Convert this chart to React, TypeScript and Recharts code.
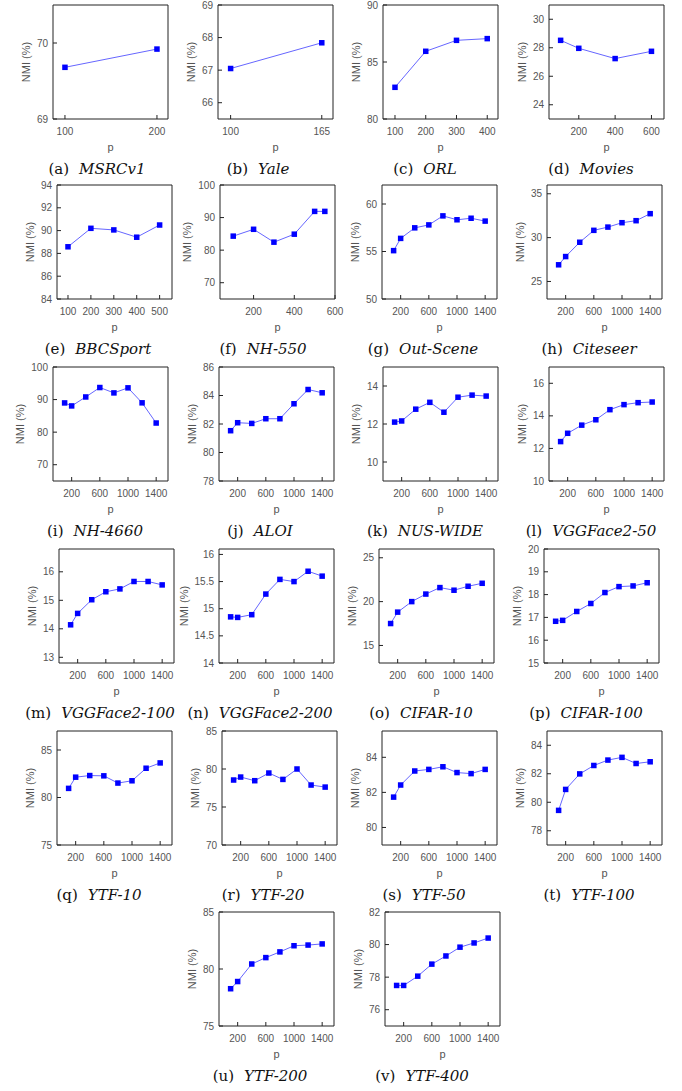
import React from "react";
import { LineChart, Line, XAxis, YAxis } from "recharts";

// shared p grid for the large datasets
const P8 = [100, 200, 400, 600, 800, 1000, 1200, 1400];
const P8_TICKS = [200, 600, 1000, 1400];
const P8_DOMAIN = [-65, 1568];

// NMI (%) values
const MSRC_P = [100, 200];
const MSRC_NMI = [69.68, 69.92];
const YALE_P = [100, 165];
const YALE_NMI = [67.05, 67.84];
const ORL_P = [100, 200, 300, 400];
const ORL_NMI = [82.78, 85.94, 86.9, 87.05];
const MOVIES_P = [100, 200, 400, 600];
const MOVIES_NMI = [28.52, 27.96, 27.24, 27.75];
const BBC_P = [100, 200, 300, 400, 500];
const BBC_NMI = [88.58, 90.2, 90.06, 89.42, 90.49];
const NH550_P = [100, 200, 300, 400, 500, 550];
const NH550_NMI = [84.3, 86.4, 82.45, 84.9, 91.9, 91.9];
const OUTSCENE_NMI = [55.09, 56.38, 57.49, 57.8, 58.75, 58.34, 58.5, 58.2];
const CITESEER_NMI = [26.9, 27.84, 29.47, 30.83, 31.2, 31.7, 31.93, 32.73];
const NH4660_NMI = [88.97, 88.05, 90.8, 93.7, 92.05, 93.6, 89.0, 82.8];
const ALOI_NMI = [81.53, 82.09, 82.04, 82.37, 82.37, 83.42, 84.42, 84.19];
const NUSWIDE_NMI = [12.1, 12.16, 12.78, 13.14, 12.62, 13.41, 13.52, 13.47];
const VGG50_NMI = [12.42, 12.93, 13.43, 13.76, 14.38, 14.69, 14.81, 14.85];
const VGG100_NMI = [14.14, 14.54, 15.02, 15.3, 15.4, 15.66, 15.66, 15.54];
const VGG200_NMI = [14.85, 14.84, 14.89, 15.27, 15.54, 15.5, 15.69, 15.6];
const CIFAR10_NMI = [17.5, 18.8, 20.0, 20.86, 21.6, 21.3, 21.75, 22.09];
const CIFAR100_NMI = [16.83, 16.87, 17.26, 17.61, 18.09, 18.35, 18.38, 18.52];
const YTF10_NMI = [80.96, 82.14, 82.31, 82.28, 81.52, 81.76, 83.08, 83.64];
const YTF20_NMI = [78.55, 78.94, 78.46, 79.47, 78.63, 80.0, 77.89, 77.62];
const YTF50_NMI = [81.73, 82.42, 83.22, 83.31, 83.46, 83.13, 83.07, 83.31];
const YTF100_NMI = [79.43, 80.9, 81.99, 82.58, 82.96, 83.15, 82.72, 82.84];
const YTF200_NMI = [78.27, 78.9, 80.44, 81.0, 81.5, 82.04, 82.1, 82.2];
const YTF400_NMI = [77.49, 77.49, 78.06, 78.8, 79.3, 79.84, 80.1, 80.4];

const PANELS = [
  { id: "a", name: "MSRCv1", p: MSRC_P, nmi: MSRC_NMI, xDomain: [87, 212], xTicks: [100, 200], yDomain: [69, 70.5], yTicks: [69, 70] },
  { id: "b", name: "Yale", p: YALE_P, nmi: YALE_NMI, xDomain: [91, 173], xTicks: [100, 165], yDomain: [65.5, 69], yTicks: [66, 67, 68, 69] },
  { id: "c", name: "ORL", p: ORL_P, nmi: ORL_NMI, xDomain: [61, 435], xTicks: [100, 200, 300, 400], yDomain: [80, 90], yTicks: [80, 85, 90] },
  { id: "d", name: "Movies", p: MOVIES_P, nmi: MOVIES_NMI, xDomain: [36, 669], xTicks: [200, 400, 600], yDomain: [23, 31], yTicks: [24, 26, 28, 30] },
  { id: "e", name: "BBCSport", p: BBC_P, nmi: BBC_NMI, xDomain: [52, 554], xTicks: [100, 200, 300, 400, 500], yDomain: [84, 94], yTicks: [84, 86, 88, 90, 92, 94] },
  { id: "f", name: "NH-550", p: NH550_P, nmi: NH550_NMI, xDomain: [35, 600], xTicks: [200, 400, 600], yDomain: [65, 100], yTicks: [70, 80, 90, 100] },
  { id: "g", name: "Out-Scene", p: P8, nmi: OUTSCENE_NMI, xDomain: P8_DOMAIN, xTicks: P8_TICKS, yDomain: [50, 62], yTicks: [50, 55, 60] },
  { id: "h", name: "Citeseer", p: P8, nmi: CITESEER_NMI, xDomain: P8_DOMAIN, xTicks: P8_TICKS, yDomain: [23, 36], yTicks: [25, 30, 35] },
  { id: "i", name: "NH-4660", p: P8, nmi: NH4660_NMI, xDomain: P8_DOMAIN, xTicks: P8_TICKS, yDomain: [65, 100], yTicks: [70, 80, 90, 100] },
  { id: "j", name: "ALOI", p: P8, nmi: ALOI_NMI, xDomain: P8_DOMAIN, xTicks: P8_TICKS, yDomain: [78, 86], yTicks: [78, 80, 82, 84, 86] },
  { id: "k", name: "NUS-WIDE", p: P8, nmi: NUSWIDE_NMI, xDomain: P8_DOMAIN, xTicks: P8_TICKS, yDomain: [9, 15], yTicks: [10, 12, 14] },
  { id: "l", name: "VGGFace2-50", p: P8, nmi: VGG50_NMI, xDomain: P8_DOMAIN, xTicks: P8_TICKS, yDomain: [10, 17], yTicks: [10, 12, 14, 16] },
  { id: "m", name: "VGGFace2-100", p: P8, nmi: VGG100_NMI, xDomain: P8_DOMAIN, xTicks: P8_TICKS, yDomain: [12.8, 16.8], yTicks: [13, 14, 15, 16] },
  { id: "n", name: "VGGFace2-200", p: P8, nmi: VGG200_NMI, xDomain: P8_DOMAIN, xTicks: P8_TICKS, yDomain: [14, 16.1], yTicks: [14, 14.5, 15, 15.5, 16] },
  { id: "o", name: "CIFAR-10", p: P8, nmi: CIFAR10_NMI, xDomain: P8_DOMAIN, xTicks: P8_TICKS, yDomain: [13, 26], yTicks: [15, 20, 25] },
  { id: "p", name: "CIFAR-100", p: P8, nmi: CIFAR100_NMI, xDomain: P8_DOMAIN, xTicks: P8_TICKS, yDomain: [15, 20], yTicks: [15, 16, 17, 18, 19, 20] },
  { id: "q", name: "YTF-10", p: P8, nmi: YTF10_NMI, xDomain: P8_DOMAIN, xTicks: P8_TICKS, yDomain: [75, 87], yTicks: [75, 80, 85] },
  { id: "r", name: "YTF-20", p: P8, nmi: YTF20_NMI, xDomain: P8_DOMAIN, xTicks: P8_TICKS, yDomain: [70, 85], yTicks: [70, 75, 80, 85] },
  { id: "s", name: "YTF-50", p: P8, nmi: YTF50_NMI, xDomain: P8_DOMAIN, xTicks: P8_TICKS, yDomain: [79, 85.5], yTicks: [80, 82, 84] },
  { id: "t", name: "YTF-100", p: P8, nmi: YTF100_NMI, xDomain: P8_DOMAIN, xTicks: P8_TICKS, yDomain: [77, 85], yTicks: [78, 80, 82, 84] },
  { id: "u", name: "YTF-200", p: P8, nmi: YTF200_NMI, xDomain: P8_DOMAIN, xTicks: P8_TICKS, yDomain: [75, 85], yTicks: [75, 80, 85] },
  { id: "v", name: "YTF-400", p: P8, nmi: YTF400_NMI, xDomain: P8_DOMAIN, xTicks: P8_TICKS, yDomain: [75, 82], yTicks: [76, 78, 80, 82] },
];

// plot-box top-left corners (page px) and caption centres
const BOX_POS: Record<string, [number, number]> = {
  a: [53, 5], b: [218, 5], c: [383, 5], d: [549, 5],
  e: [57, 185], f: [220, 185], g: [382, 185], h: [547, 185],
  i: [53, 367], j: [219, 367], k: [383, 367], l: [549, 367],
  m: [59, 549], n: [219, 549], o: [379, 549], p: [544, 549],
  q: [57, 731], r: [222, 731], s: [382, 731], t: [547, 731],
  u: [219, 912], v: [385, 912],
};
const CAPTION_X: Record<string, number> = {
  a: 97, b: 258, c: 425, d: 591,
  e: 98, f: 263, g: 423, h: 589,
  i: 95, j: 260, k: 425, l: 591,
  m: 100, n: 260, o: 421, p: 586,
  q: 99, r: 263, s: 424, t: 589,
  u: 260, v: 422,
};

const BW = 115;
const BH = 114;
const YW = 46;
const XH = 34;
const MT = 4;
const MR = 14;
const EDGE = 1;

const TICK_FONT = "'Liberation Sans', Helvetica, Arial, sans-serif";
const CAP_FONT = "'DejaVu Serif', 'Liberation Serif', serif";
const AXIS = "#222";
const TICK_FILL = "#555";

const Square = (props: any) => {
  const { cx, cy } = props;
  if (cx == null || cy == null) return null;
  return <rect x={cx - 2.75} y={cy - 2.75} width={5.5} height={5.5} fill="#0000ff" />;
};

const XLabel = (props: any) => {
  const { x, y, width } = props.viewBox;
  return (
    <text x={x + width / 2} y={y + 28} textAnchor="middle" dominantBaseline="central"
      fontSize={11} fill={TICK_FILL} fontFamily={TICK_FONT}>
      p
    </text>
  );
};

const YLabel = (props: any) => {
  const { x, y, width, height } = props.viewBox;
  const cx = x + width - props.off;
  const cy = y + height / 2;
  return (
    <text x={cx} y={cy} transform={`rotate(-90, ${cx}, ${cy})`} textAnchor="middle"
      dominantBaseline="central" fontSize={11} fill={TICK_FILL} fontFamily={TICK_FONT}>
      NMI (%)
    </text>
  );
};

const labelWidth = (t: number) =>
  String(t).split("").reduce((w, c) => w + (c === "." ? 2.8 : 5.56), 0);

const Panel = ({ spec }: any) => {
  const [left, top] = BOX_POS[spec.id];
  const data = spec.p.map((p: number, i: number) => ({ p, nmi: spec.nmi[i] }));
  const off = 16 + Math.max(...spec.yTicks.map(labelWidth));
  const tickStyle = { fill: TICK_FILL, fontSize: 10, fontFamily: TICK_FONT };
  return (
    <div style={{ position: "absolute", left: left - YW, top: top - MT - EDGE }}>
      <LineChart
        width={YW + BW + EDGE + MR}
        height={MT + EDGE + BH + XH}
        data={data}
        margin={{ top: MT, right: MR, left: 0, bottom: 0 }}
      >
        <XAxis xAxisId="b" dataKey="p" type="number" domain={spec.xDomain} ticks={spec.xTicks}
          allowDataOverflow interval={0} height={XH} tickSize={-4} tickMargin={13}
          stroke={AXIS} tick={tickStyle} label={<XLabel />} />
        <XAxis xAxisId="t" orientation="top" dataKey="p" type="number" domain={spec.xDomain}
          ticks={spec.xTicks} allowDataOverflow interval={0} height={EDGE} tickSize={-4}
          tick={false} stroke={AXIS} />
        <YAxis yAxisId="l" type="number" domain={spec.yDomain} ticks={spec.yTicks}
          allowDataOverflow interval={0} width={YW} tickSize={-4} tickMargin={9}
          stroke={AXIS} tick={tickStyle} label={<YLabel off={off} />} />
        <YAxis yAxisId="r" orientation="right" type="number" domain={spec.yDomain}
          ticks={spec.yTicks} allowDataOverflow interval={0} width={EDGE} tickSize={-4}
          tick={false} stroke={AXIS} />
        <Line xAxisId="b" yAxisId="l" type="linear" dataKey="nmi" stroke="#6666ff"
          strokeWidth={1} dot={<Square />} activeDot={false} isAnimationActive={false} />
      </LineChart>
    </div>
  );
};

const Caption = ({ spec }: any) => {
  const [, top] = BOX_POS[spec.id];
  const cx = CAPTION_X[spec.id];
  return (
    <div style={{
      position: "absolute", left: cx - 100, width: 200, top: top + BH + 40, height: 20,
      lineHeight: "20px", textAlign: "center", fontFamily: CAP_FONT, fontSize: 15,
      color: "#111", whiteSpace: "nowrap",
    }}>
      ({spec.id})<span style={{ display: "inline-block", width: 10 }} />
      <i>{spec.name}</i>
    </div>
  );
};

export default function App() {
  return (
    <div style={{ position: "absolute", left: 0, top: 0, width: 682, height: 1091, background: "#fff" }}>
      {PANELS.map((s) => (
        <React.Fragment key={s.id}>
          <Panel spec={s} />
          <Caption spec={s} />
        </React.Fragment>
      ))}
    </div>
  );
}
